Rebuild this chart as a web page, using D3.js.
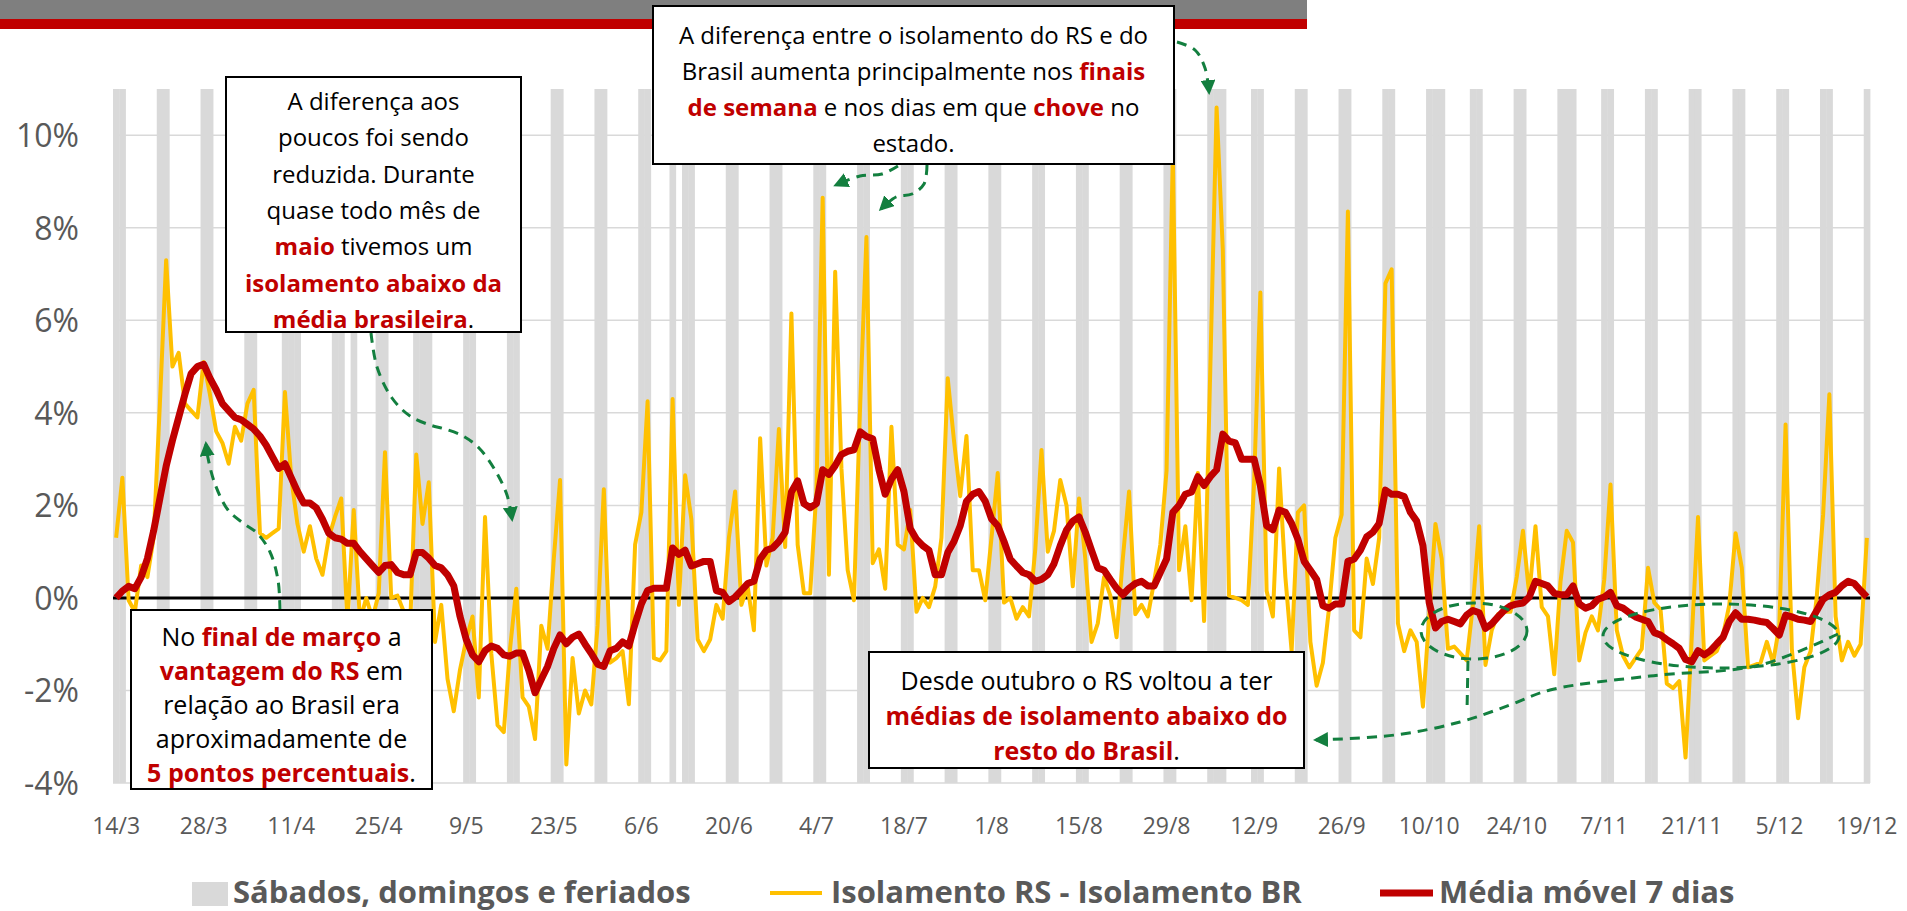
<!DOCTYPE html>
<html><head><meta charset="utf-8">
<script src="https://cdn.jsdelivr.net/npm/d3@7"></script>
<style>body{margin:0;background:#fff} text{white-space:pre}</style>
</head><body><svg id="c" width="1907" height="911"></svg>
<script>
// ---------------- DATA ----------------
const startDate = "2020-03-14";
const nDays = 281;
const holidays = ["2020-04-10","2020-04-21","2020-05-01","2020-06-11","2020-09-07","2020-10-12","2020-11-02"];
const tickLabels = ["14/3","28/3","11/4","25/4","9/5","23/5","6/6","20/6","4/7","18/7","1/8","15/8","29/8","12/9","26/9","10/10","24/10","7/11","21/11","5/12","19/12"];
const yTicks = [-4,-2,0,2,4,6,8,10];
// Isolamento RS - Isolamento BR (pontos percentuais), diário
const diffRS_BR = [
 1.3, 2.6, -0.05, -0.3, 0.7, 0.45, 1.3, 4.2, 7.3, 5.0,
 5.3, 4.2, 4.05, 3.9, 5.1, 4.4, 3.6, 3.35, 2.9, 3.7,
 3.4, 4.2, 4.5, 1.4, 1.3, 1.4, 1.5, 4.45, 2.6, 1.6,
 1.0, 1.55, 0.85, 0.5, 1.3, 1.75, 2.15, -0.5, 1.9, -0.5,
 0.0, -0.45, 0.1, 3.15, 0.0, 0.05, -0.3, -0.7, 3.1, 1.6,
 2.5, -0.95, -0.15, -1.75, -2.45, -1.55, -0.9, -0.4, -2.15, 1.75,
 -1.2, -2.75, -2.9, -1.1, 0.2, -2.15, -2.35, -3.05, -0.6, -1.1,
 0.85, 2.55, -3.6, -1.3, -2.5, -2.0, -2.3, -0.6, 2.35, -1.4,
 -1.3, -1.15, -2.3, 1.15, 1.85, 4.25, -1.3, -1.35, -1.15, 4.3,
 -0.15, 2.65, 1.7, -0.9, -1.15, -0.9, -0.15, -0.45, 1.3, 2.3,
 -0.15, 0.25, -0.7, 3.45, 0.7, 1.3, 3.65, 1.1, 6.15, 1.15,
 0.1, 0.1, 2.3, 8.65, 0.5, 7.05, 2.8, 0.6, -0.05, 4.2,
 7.8, 0.75, 1.05, 0.2, 3.7, 1.15, 1.05, 1.9, -0.3, 0.0,
 -0.2, 0.25, 1.3, 4.75, 3.4, 2.2, 3.5, 0.6, 0.6, -0.05,
 1.3, 2.7, -0.1, 0.0, -0.45, -0.2, -0.4, 1.05, 3.2, 1.0,
 1.45, 2.55, 2.0, 0.25, 2.15, 0.85, -0.95, -0.55, 0.45, 0.05,
 -0.85, 0.85, 2.3, -0.35, -0.15, -0.4, 0.35, 1.15, 2.75, 9.6,
 0.6, 1.55, -0.05, 2.7, -0.5, 5.0, 10.6, 7.5, 0.05, 0.0,
 -0.05, -0.15, 2.5, 6.6, 0.15, -0.4, 2.8, 0.45, -1.15, 1.85,
 2.0, -0.95, -1.9, -1.4, -0.2, 1.3, 1.8, 8.35, -0.7, -0.85,
 0.85, 0.3, 1.3, 6.8, 7.1, -0.55, -1.15, -0.7, -0.95, -2.35,
 -0.4, 1.6, 0.85, -1.1, -1.05, -1.2, -1.35, -0.15, 1.55, -1.45,
 -0.7, -0.35, -0.3, -0.3, 0.45, 1.45, 0.05, 1.55, -0.2, -0.4,
 -1.65, 0.35, 1.45, 1.2, -1.35, -0.75, -0.4, -0.7, 0.4, 2.45,
 -0.7, -1.25, -1.5, -1.3, -1.1, 0.65, -0.1, -0.25, -1.85, -1.95,
 -1.8, -3.45, -0.85, 1.75, -1.35, -1.25, -1.15, -0.8, -0.15, 1.4,
 0.65, -1.5, -1.45, -1.4, -0.95, -1.4, -0.6, 3.75, -1.1, -2.6,
 -1.5, -1.15, 0.05, 1.8, 4.4, -0.4, -1.35, -0.95, -1.25, -1.0,
 1.3
];
// Média móvel 7 dias
const movingAvg7 = [
 0.0, 0.15, 0.25, 0.2, 0.45, 0.85, 1.45, 2.15, 2.85, 3.4,
 3.9, 4.4, 4.85, 5.0, 5.05, 4.75, 4.5, 4.2, 4.05, 3.9,
 3.85, 3.75, 3.65, 3.5, 3.3, 3.05, 2.8, 2.9, 2.6, 2.3,
 2.05, 2.05, 1.95, 1.7, 1.4, 1.3, 1.27, 1.18, 1.18, 1.0,
 0.85, 0.7, 0.55, 0.7, 0.72, 0.55, 0.5, 0.5, 0.98, 0.98,
 0.86, 0.7, 0.65, 0.5, 0.26, -0.4, -0.9, -1.23, -1.38, -1.14,
 -1.04, -1.09, -1.23, -1.26, -1.19, -1.19, -1.57, -2.05, -1.76, -1.48,
 -1.09, -0.8, -0.99, -0.85, -0.78, -1.0, -1.2, -1.43, -1.48, -1.14,
 -1.09, -0.95, -1.04, -0.56, -0.13, 0.16, 0.21, 0.21, 0.21, 1.08,
 0.94, 1.03, 0.69, 0.74, 0.79, 0.79, 0.16, 0.12, -0.08, 0.02,
 0.16, 0.31, 0.36, 0.84, 1.03, 1.08, 1.22, 1.42, 2.29, 2.53,
 2.04, 1.95, 2.04, 2.77, 2.67, 2.86, 3.1, 3.17, 3.2, 3.59,
 3.49, 3.44, 2.77, 2.24, 2.57, 2.77, 2.3, 1.5, 1.27, 1.13,
 1.03, 0.5, 0.5, 0.98, 1.22, 1.56, 2.09, 2.24, 2.3, 2.09,
 1.71, 1.56, 1.22, 0.84, 0.69, 0.55, 0.5, 0.36, 0.4, 0.5,
 0.74, 1.13, 1.47, 1.66, 1.75, 1.42, 1.03, 0.65, 0.6, 0.4,
 0.21, 0.07, 0.21, 0.31, 0.36, 0.26, 0.26, 0.55, 0.84, 1.85,
 2.0, 2.24, 2.29, 2.62, 2.43, 2.62, 2.77, 3.54, 3.39, 3.35,
 3.0, 3.0, 3.0, 2.43, 1.56, 1.47, 1.9, 1.85, 1.61, 1.27,
 0.79, 0.6, 0.4, -0.17, -0.22, -0.13, -0.13, 0.79, 0.84, 1.03,
 1.32, 1.42, 1.61, 2.33, 2.24, 2.24, 2.19, 1.85, 1.66, 1.13,
 -0.1, -0.65, -0.51, -0.46, -0.51, -0.56, -0.37, -0.27, -0.32, -0.66,
 -0.56, -0.41, -0.27, -0.17, -0.13, -0.11, 0.02, 0.36, 0.31, 0.26,
 0.1, 0.07, 0.07, 0.26, -0.13, -0.22, -0.17, -0.03, 0.02, 0.12,
 -0.17, -0.22, -0.32, -0.41, -0.46, -0.51, -0.75, -0.8, -0.9, -0.99,
 -1.09, -1.33, -1.38, -1.14, -1.23, -1.14, -0.99, -0.85, -0.51, -0.32,
 -0.46, -0.46, -0.48, -0.51, -0.53, -0.66, -0.8, -0.37, -0.41, -0.46,
 -0.48, -0.51, -0.27, -0.03, 0.07, 0.12, 0.26, 0.36, 0.31, 0.16,
 0.02
];
const legendLabels = ["Sábados, domingos e feriados","Isolamento RS - Isolamento BR","Média móvel 7 dias"];

// ---------------- CHART ----------------
const FONT = "'Open Sans', sans-serif";
const GREEN = "#137F3F";
const svg = d3.select("#c");
const parse = d3.utcParse("%Y-%m-%d");
const d0 = parse(startDate);
const days = d3.utcDay.range(d0, d3.utcDay.offset(d0, nDays));
const holSet = new Set(holidays);
const fmt = d3.utcFormat("%Y-%m-%d");
const isGray = days.map(d => d.getUTCDay() === 0 || d.getUTCDay() === 6 || holSet.has(fmt(d)));

const x = d3.scaleBand().domain(d3.range(nDays)).range([113, 1870]).padding(0);
const y = d3.scaleLinear().domain([-4, 11]).range([783, 89]);
const bw = x.bandwidth();
const cx = i => x(i) + bw / 2;

// header bar
svg.append("rect").attr("x",0).attr("y",0).attr("width",1307).attr("height",19).attr("fill","#7F7F7F");
svg.append("rect").attr("x",0).attr("y",19).attr("width",1307).attr("height",10).attr("fill","#C00000");

// gridlines
svg.append("g").selectAll("line").data(yTicks.filter(t => t !== 0)).join("line")
  .attr("x1",113).attr("x2",1870).attr("y1",d=>y(d)).attr("y2",d=>y(d))
  .attr("stroke","#D9D9D9").attr("stroke-width",1.5);

// weekend / holiday bars
svg.append("g").selectAll("rect").data(d3.range(nDays).filter(i => isGray[i])).join("rect")
  .attr("x", i => x(i)).attr("width", bw + 0.4)
  .attr("y", y(11)).attr("height", y(-4) - y(11)).attr("fill","#D9D9D9");

// y axis labels
const yAxis = d3.axisLeft(y).tickValues(yTicks).tickSize(0).tickPadding(0).tickFormat(d => d + "%");
const gy = svg.append("g").attr("transform","translate(79,0)").call(yAxis);
gy.select(".domain").remove();
gy.selectAll("text").attr("font-family",FONT).attr("font-size",32).attr("fill","#595959").attr("dy","0.35em");

// x axis labels
const xAxis = d3.axisBottom(x).tickValues(d3.range(0, nDays, 14)).tickSize(0).tickPadding(0)
  .tickFormat((d, k) => tickLabels[k]);
const gx = svg.append("g").attr("transform","translate(0,826)").call(xAxis);
gx.select(".domain").remove();
gx.selectAll("text").attr("font-family",FONT).attr("font-size",23).attr("fill","#595959").attr("dy","0.35em");

// zero line
svg.append("line").attr("x1",113).attr("x2",1870).attr("y1",y(0)).attr("y2",y(0))
  .attr("stroke","#000").attr("stroke-width",3);

// series lines
const line = d3.line().x((d,i)=>cx(i)).y(d=>y(d));
svg.append("path").datum(diffRS_BR).attr("d",line).attr("fill","none")
  .attr("stroke","#FFC000").attr("stroke-width",4).attr("stroke-linejoin","round");
svg.append("path").datum(movingAvg7).attr("d",line).attr("fill","none")
  .attr("stroke","#C00000").attr("stroke-width",7).attr("stroke-linejoin","round");

// arrow marker
const defs = svg.append("defs");
defs.append("marker").attr("id","ah").attr("viewBox","0 0 10 10").attr("refX",8).attr("refY",5)
  .attr("markerWidth",5).attr("markerHeight",5).attr("orient","auto-start-reverse")
  .append("path").attr("d","M0,0 L10,5 L0,10 z").attr("fill",GREEN);

const curve = d3.line().curve(d3.curveCatmullRom.alpha(0.5));
function dashed(pts, endArrow, startArrow){
  const p = svg.append("path").attr("d",curve(pts)).attr("fill","none").attr("stroke",GREEN)
    .attr("stroke-width",3).attr("stroke-dasharray","10,7");
  if (endArrow) p.attr("marker-end","url(#ah)");
  if (startArrow) p.attr("marker-start","url(#ah)");
}
// arrows
dashed([[280,610],[278,580],[270,552],[257,533],[243,523],[228,510],[215,484],[208,458],[206,444]], true);
dashed([[371,333],[377,367],[392,398],[410,416],[430,425],[445,429],[463,436],[479,448],[495,470],[507,495],[512,519]], true);
dashed([[1177,42],[1195,50],[1205,68],[1209,92]], true);
dashed([[927,165],[924,184],[912,194],[896,197],[881,209]], true);
dashed([[898,166],[882,174],[860,176],[836,185]], true);
dashed([[1316,740],[1395,735],[1460,722],[1510,705],[1550,690],[1650,676],[1760,665],[1838,634]], false, true);
dashed([[1468,661],[1467,712]], false);
svg.append("ellipse").attr("cx",1474).attr("cy",631).attr("rx",53).attr("ry",28)
  .attr("fill","none").attr("stroke",GREEN).attr("stroke-width",3).attr("stroke-dasharray","10,7");
svg.append("ellipse").attr("cx",1721).attr("cy",636).attr("rx",118).attr("ry",32)
  .attr("fill","none").attr("stroke",GREEN).attr("stroke-width",3).attr("stroke-dasharray","10,7");

// annotation boxes
const boxes = [
  {x:226,y:77,w:295,h:255,fs:24,y0:100,lh:36.3,lines:[
    [["A diferença aos",0]],[["poucos foi sendo",0]],[["reduzida. Durante",0]],[["quase todo mês de",0]],
    [["maio",1],[" tivemos um",0]],[["isolamento abaixo da",1]],[["média brasileira",1],[".",0]]]},
  {x:653,y:6,w:521,h:158,fs:24,y0:34,lh:36,lines:[
    [["A diferença entre o isolamento do RS e do",0]],
    [["Brasil aumenta principalmente nos ",0],["finais",1]],
    [["de semana",1],[" e nos dias em que ",0],["chove",1],[" no",0]],
    [["estado.",0]]]},
  {x:131,y:610,w:301,h:179,fs:25,y0:636,lh:34,lines:[
    [["No ",0],["final de março",1],[" a",0]],[["vantagem do RS",1],[" em",0]],
    [["relação ao Brasil era",0]],[["aproximadamente de",0]],[["5 pontos percentuais",1],[".",0]]]},
  {x:869,y:652,w:435,h:116,fs:25,y0:680,lh:35,lines:[
    [["Desde outubro o RS voltou a ter",0]],[["médias de isolamento abaixo do",1]],
    [["resto do Brasil",1],[".",0]]]}
];
boxes.forEach(b => {
  svg.append("rect").attr("x",b.x).attr("y",b.y).attr("width",b.w).attr("height",b.h)
    .attr("fill","#fff").attr("stroke","#000").attr("stroke-width",2);
  b.lines.forEach((ln,k) => {
    const t = svg.append("text").attr("x", b.x + b.w/2).attr("y", b.y0 + k*b.lh)
      .attr("text-anchor","middle").attr("dominant-baseline","central")
      .attr("font-family",FONT).attr("font-size",b.fs);
    ln.forEach(p => t.append("tspan").text(p[0]).attr("font-weight", p[1] ? 700 : 400)
      .attr("fill", p[1] ? "#C00000" : "#000"));
  });
});

// legend
const lg = svg.append("g").attr("font-family",FONT).attr("font-size",31).attr("font-weight",700).attr("fill","#595959");
lg.append("rect").attr("x",192).attr("y",882).attr("width",36).attr("height",24).attr("fill","#D9D9D9");
lg.append("text").attr("x",233).attr("y",891).attr("dominant-baseline","central").text(legendLabels[0]);
lg.append("line").attr("x1",770).attr("x2",822).attr("y1",893).attr("y2",893).attr("stroke","#FFC000").attr("stroke-width",4);
lg.append("text").attr("x",831).attr("y",891).attr("dominant-baseline","central").text(legendLabels[1]);
lg.append("line").attr("x1",1380).attr("x2",1433).attr("y1",893).attr("y2",893).attr("stroke","#C00000").attr("stroke-width",7);
lg.append("text").attr("x",1439).attr("y",891).attr("dominant-baseline","central").text(legendLabels[2]);
</script></body></html>
